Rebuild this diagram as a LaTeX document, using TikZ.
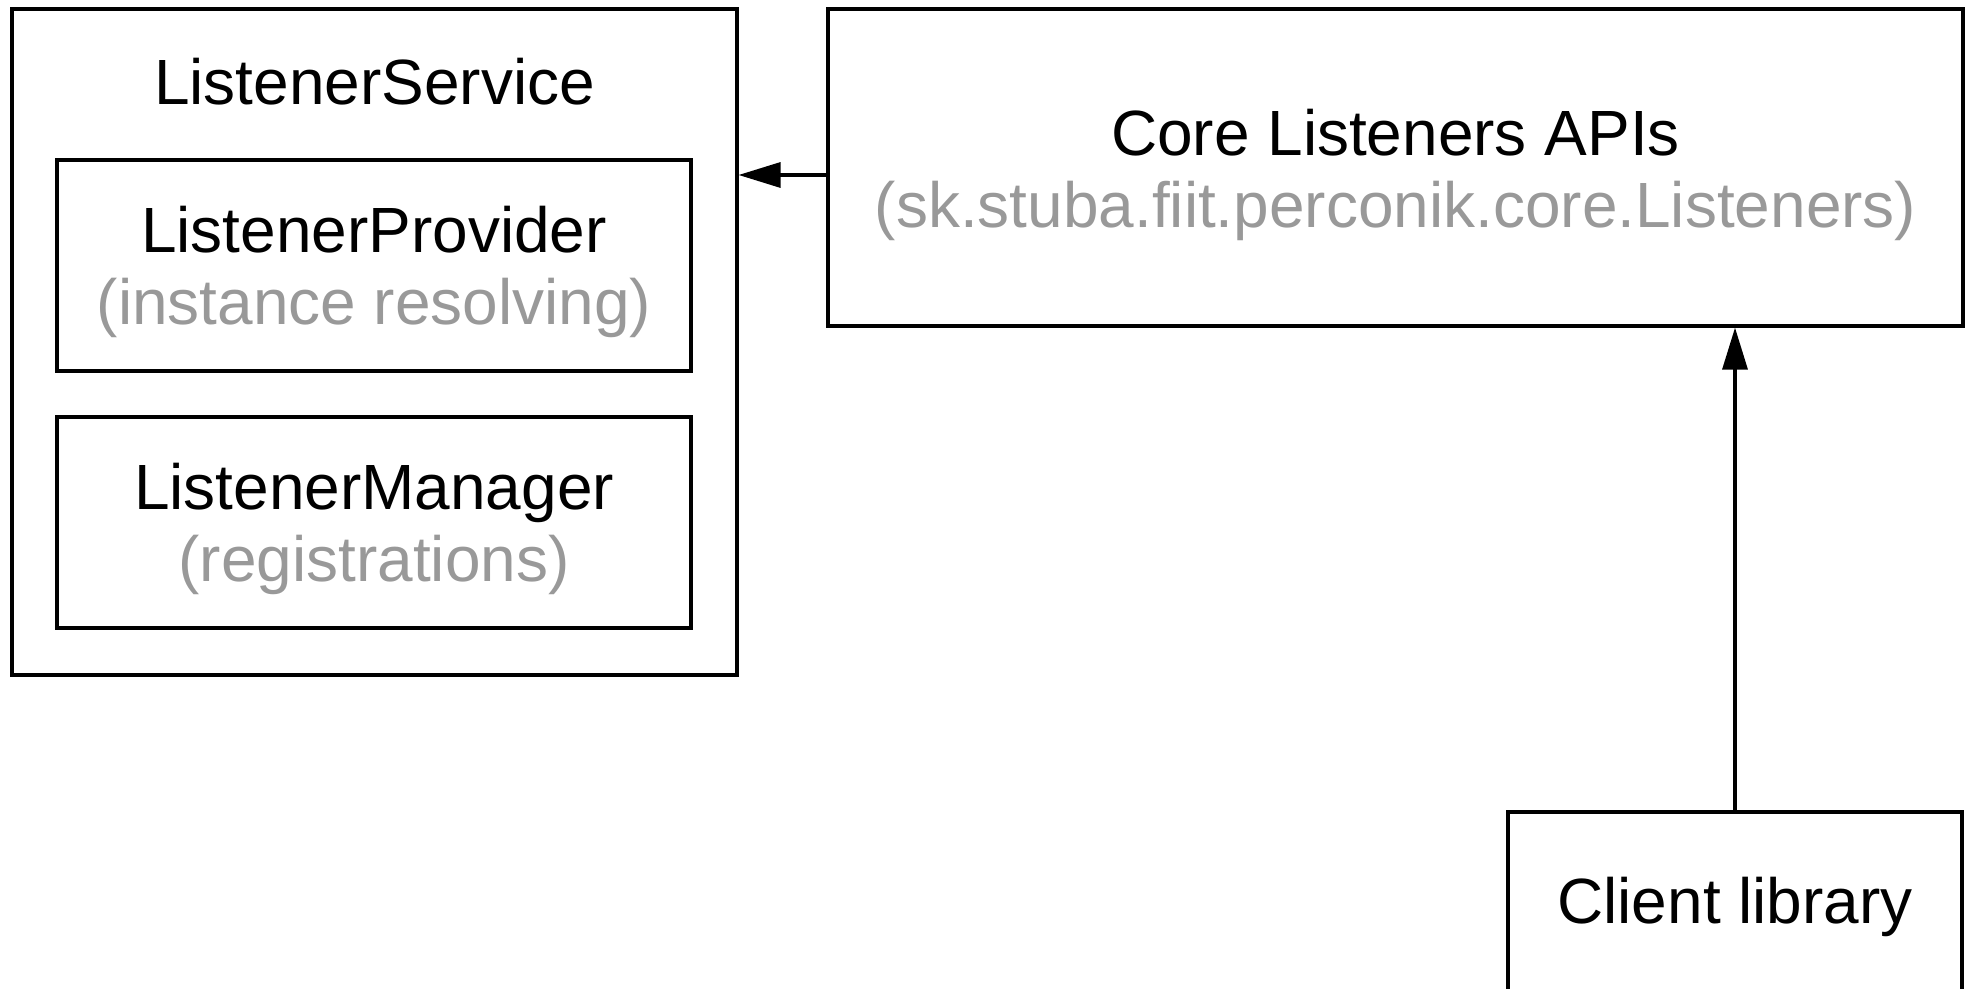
\documentclass[tikz,border=0pt]{standalone}
\usepackage{fontspec}
\setmainfont{Liberation Sans}
\usetikzlibrary{arrows.meta}
\definecolor{subgray}{HTML}{999999}
\begin{document}
\begin{tikzpicture}[x=0.02cm,y=-0.02cm,
  box/.style={draw=black, line width=1.9pt, inner sep=0pt},
  lbl/.style={inner sep=0pt, align=center, font=\fontsize{36.4}{41}\selectfont},
  conn/.style={line width=1.9pt, -{Triangle[length=0.84cm,width=0.5cm]}}]
\useasboundingbox (0,0) rectangle (1974,989);
\clip (0,0) rectangle (1974,989);
\node[box, minimum width=14.5cm, minimum height=13.32cm] (ls) at (374.5,342) {};
\node[lbl] (lstitle) at (374.5,82) {ListenerService};
\node[box, minimum width=12.68cm, minimum height=4.22cm,
  label={[lbl,yshift=-0.12cm]center:ListenerProvider\\\textcolor{subgray}{(instance resolving)}}]
  (prov) at (374,265.5) {};
\node[box, minimum width=12.68cm, minimum height=4.22cm,
  label={[lbl,yshift=-0.12cm]center:ListenerManager\\\textcolor{subgray}{(registrations)}}]
  (mgr) at (374,522.5) {};
\node[box, minimum width=22.7cm, minimum height=6.34cm,
  label={[lbl,yshift=-0.14cm]center:Core Listeners APIs\\\textcolor{subgray}{(sk.stuba.fiit.perconik.core.Listeners)}}]
  (core) at (1395.5,167.5) {};
\node[box, minimum width=9.08cm, minimum height=3.64cm,
  label={[lbl,yshift=-0.08cm]center:Client library}]
  (client) at (1735,903) {};
\draw[conn] ([yshift=-0.15cm]core.west) -- ([yshift=-0.15cm]core.west -| ls.east);
\draw[conn] (client.north) -- (client.north |- core.south);
\end{tikzpicture}
\end{document}
